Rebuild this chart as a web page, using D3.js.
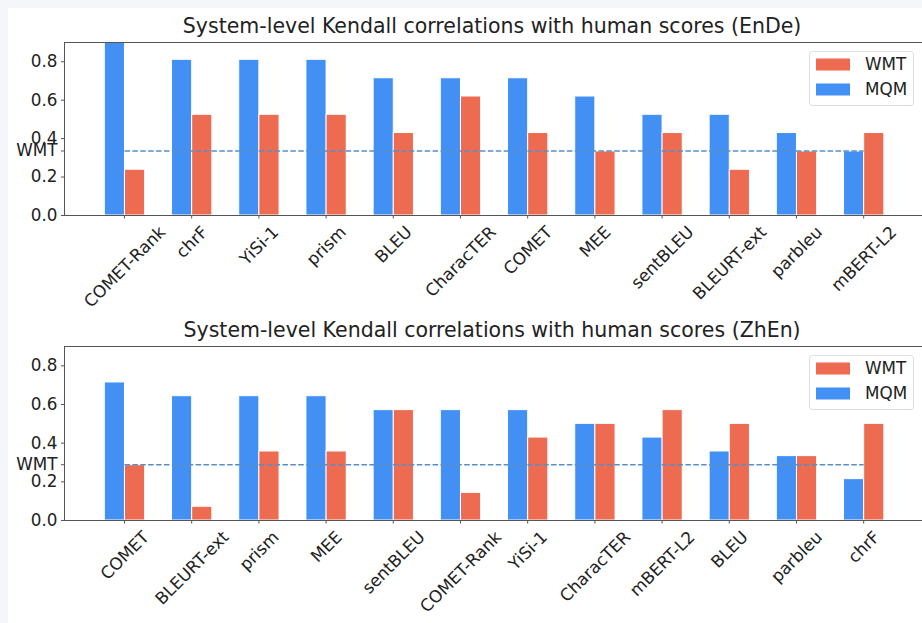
<!DOCTYPE html>
<html>
<head>
<meta charset="utf-8">
<script src="https://cdn.jsdelivr.net/npm/d3@7"></script>
<style>
  body { margin: 0; background: #f4f6f9; }
  svg { display: block; }
  text { font-family: "DejaVu Sans", sans-serif; fill: #222; }
</style>
</head>
<body>
<div id="chart"></div>
<script>
// data
let ende_metrics = ["COMET-Rank","chrF","YiSi-1","prism","BLEU","CharacTER","COMET","MEE","sentBLEU","BLEURT-ext","parbleu","mBERT-L2"];
let ende_mqm = [0.905,0.810,0.810,0.810,0.714,0.714,0.714,0.619,0.524,0.524,0.429,0.333];
let ende_wmt = [0.238,0.524,0.524,0.524,0.429,0.619,0.429,0.333,0.429,0.238,0.333,0.429];
let ende_line = 0.333;

let zhen_metrics = ["COMET","BLEURT-ext","prism","MEE","sentBLEU","COMET-Rank","YiSi-1","CharacTER","mBERT-L2","BLEU","parbleu","chrF"];
let zhen_mqm = [0.714,0.643,0.643,0.643,0.571,0.571,0.571,0.500,0.429,0.357,0.333,0.214];
let zhen_wmt = [0.286,0.071,0.357,0.357,0.571,0.143,0.429,0.500,0.571,0.500,0.333,0.500];
let zhen_line = 0.286;

let yticks = [0,0.2,0.4,0.6,0.8];
let legend_names = ["WMT","MQM"];

let blue = "#4390f5", red = "#ed6b50", lineCol = "#5a8ec6";
let W = 922, H = 623;
let fs = 16.8;

let svg = d3.select("#chart").append("svg").attr("width",W).attr("height",H);
svg.append("rect").attr("x",8).attr("y",8).attr("width",W).attr("height",H).attr("fill","white");

let x = d3.scaleLinear().domain([-0.9,11.9]).range([64,64+12.8*67.2]);

function drawPanel(idx,title,metrics,mqm,wmt,lineVal,top,bottom) {
	let y = d3.scaleLinear().domain([0,0.9]).range([bottom,top]);
	let g = svg.append("g");
	let clipId = "clip"+idx;
	g.append("clipPath").attr("id",clipId)
		.append("rect").attr("x",x.range()[0]).attr("y",top)
		.attr("width",x.range()[1]-x.range()[0]).attr("height",bottom-top);

	let bars = g.append("g").attr("clip-path","url(#"+clipId+")");
	let bw = x(0.3)-x(0);
	bars.selectAll("rect.mqm").data(mqm).join("rect")
		.attr("class","mqm")
		.attr("x",(d,i)=>x(i-0.3)).attr("y",d=>y(d))
		.attr("width",bw).attr("height",d=>y(0)-y(d))
		.attr("fill",blue).attr("stroke","white").attr("stroke-width",1);
	bars.selectAll("rect.wmt").data(wmt).join("rect")
		.attr("class","wmt")
		.attr("x",(d,i)=>x(i)).attr("y",d=>y(d))
		.attr("width",bw).attr("height",d=>y(0)-y(d))
		.attr("fill",red).attr("stroke","white").attr("stroke-width",1);

	// WMT baseline
	g.append("line")
		.attr("x1",x(0)).attr("x2",x(metrics.length-1))
		.attr("y1",y(lineVal)).attr("y2",y(lineVal))
		.attr("stroke",lineCol).attr("stroke-width",1.5)
		.attr("stroke-dasharray","5.5,2.4");

	// frame
	g.append("rect").attr("x",x.range()[0]+0.5).attr("y",top+0.5)
		.attr("width",x.range()[1]-x.range()[0]).attr("height",bottom-top)
		.attr("fill","none").attr("stroke","#555").attr("stroke-width",1);

	// y axis
	let yAxis = g.append("g").attr("transform","translate("+(x.range()[0]+0.5)+",0)")
		.call(d3.axisLeft(y).tickValues(yticks).tickFormat(d3.format(".1f")).tickSize(3.5).tickPadding(3.5));
	yAxis.select(".domain").remove();
	yAxis.selectAll("line").attr("stroke","#555");
	yAxis.selectAll("text").style("font-size",fs+"px").attr("fill","#222");
	let wt = yAxis.append("g").attr("transform","translate(0,"+y(lineVal)+")");
	wt.append("line").attr("x2",-3.5).attr("stroke","#555");
	wt.append("text").attr("x",-7).attr("dy","0.32em").attr("text-anchor","end")
		.style("font-size",fs+"px").attr("fill","#222").text("WMT");

	// x ticks and rotated labels
	let xg = g.append("g");
	xg.selectAll("line").data(metrics).join("line")
		.attr("x1",(d,i)=>x(i)).attr("x2",(d,i)=>x(i))
		.attr("y1",bottom).attr("y2",bottom+3.5).attr("stroke","#555");
	xg.selectAll("text").data(metrics).join("text")
		.style("font-size",fs+"px")
		.attr("text-anchor","middle").attr("dominant-baseline","central")
		.text(d=>d)
		.attr("transform",function(d,i) {
			let L = this.getComputedTextLength();
			let half = (L+fs*1.16)/(2*Math.SQRT2);
			return "translate("+x(i)+","+(bottom+7+half)+") rotate(-45)";
		});

	// title
	g.append("text").attr("x",(x.range()[0]+x.range()[1])/2 - 2).attr("y",top-9)
		.attr("text-anchor","middle").style("font-size","20.5px").text(title);

	// legend
	let lg = g.append("g");
	lg.append("rect").attr("x",809.5).attr("y",top+9.5).attr("width",104).attr("height",54).attr("rx",3)
		.attr("fill","white").attr("fill-opacity",0.8).attr("stroke","#ddd");
	legend_names.forEach(function(n,k) {
		lg.append("rect").attr("x",816).attr("y",top+16.5+k*25).attr("width",34).attr("height",12)
			.attr("fill",k==0?red:blue);
		lg.append("text").attr("x",865).attr("y",top+22.5+k*25).attr("dy","0.35em")
			.style("font-size",fs+"px").text(n);
	});
}

drawPanel(0,"System-level Kendall correlations with human scores (EnDe)",ende_metrics,ende_mqm,ende_wmt,ende_line,42,215);
drawPanel(1,"System-level Kendall correlations with human scores (ZhEn)",zhen_metrics,zhen_mqm,zhen_wmt,zhen_line,346,520);
</script>
</body>
</html>
